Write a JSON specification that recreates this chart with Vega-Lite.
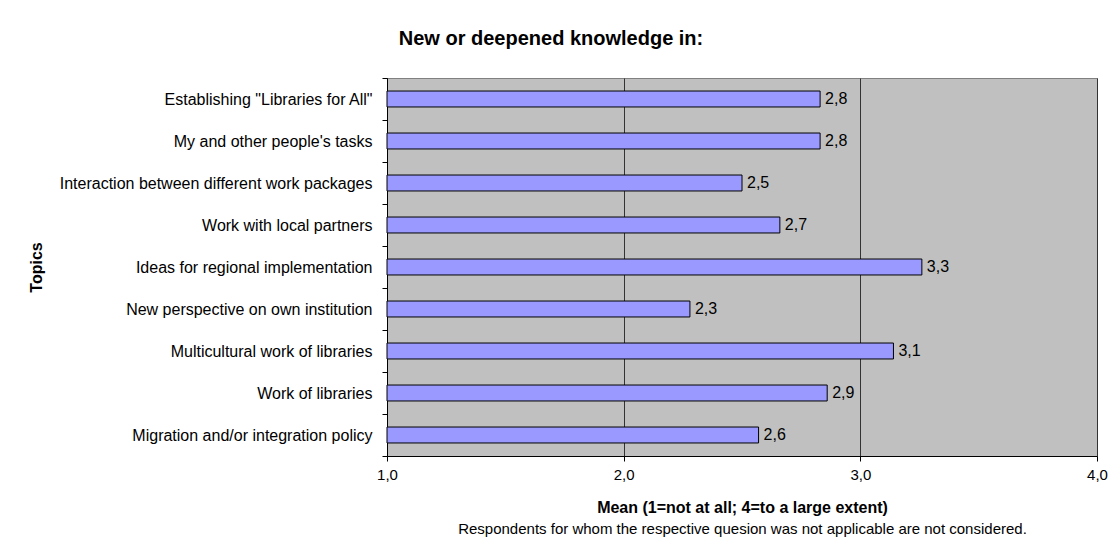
{
  "$schema": "https://vega.github.io/schema/vega-lite/v6.json",
  "autosize": {"type": "none"},
  "padding": {"left": 387, "top": 78, "right": 15, "bottom": 100},
  "width": 710,
  "height": 378,
  "background": "white",
  "config": {
    "locale": {"number": {"decimal": ",", "thousands": ".", "grouping": [3], "currency": ["", " €"]}},
    "font": "Liberation Sans",
    "view": {"fill": "#C0C0C0", "stroke": "#808080", "strokeWidth": 1}
  },
  "title": {
    "text": "New or deepened knowledge in:",
    "fontSize": 20,
    "fontWeight": "bold",
    "font": "Liberation Sans",
    "color": "#000000",
    "anchor": "middle",
    "frame": "group",
    "dx": -191,
    "offset": 5,
    "baseline": "alphabetic"
  },
  "data": {
    "values": [
      {"topic": "Establishing \"Libraries for All\"", "value": 2.83},
      {"topic": "My and other people's tasks", "value": 2.83},
      {"topic": "Interaction between different work packages", "value": 2.50},
      {"topic": "Work with local partners", "value": 2.66},
      {"topic": "Ideas for regional implementation", "value": 3.26},
      {"topic": "New perspective on own institution", "value": 2.28},
      {"topic": "Multicultural work of libraries", "value": 3.14},
      {"topic": "Work of libraries", "value": 2.86},
      {"topic": "Migration and/or integration policy", "value": 2.57}
    ]
  },
  "encoding": {
    "y": {
      "field": "topic",
      "type": "nominal",
      "sort": null,
      "scale": {"paddingInner": 0, "paddingOuter": 0},
      "axis": {
        "title": "Topics",
        "titleFontWeight": "bold",
        "titleFontSize": 16,
        "titleColor": "#000000",
        "titleX": -351,
        "titleBaseline": "middle",
        "labelFontSize": 16,
        "labelColor": "#000000",
        "labelPadding": 10,
        "labelLimit": 400,
        "tickSize": 5,
        "tickColor": "#000000",
        "domainColor": "#000000",
        "tickBand": "extent"
      }
    }
  },
  "layer": [
    {
      "mark": {"type": "bar", "fill": "#9999FF", "stroke": "#000000", "strokeWidth": 1, "height": {"band": 0.38}},
      "encoding": {
        "x": {
          "field": "value",
          "type": "quantitative",
          "scale": {"domain": [1, 4], "zero": false, "nice": false},
          "axis": {
            "orient": "bottom",
            "values": [1, 2, 3, 4],
            "format": ".1f",
            "title": "Mean (1=not at all; 4=to a large extent)",
            "titleFontWeight": "bold",
            "titleFontSize": 16,
            "titleColor": "#000000",
            "titlePadding": 17,
            "labelFontSize": 15,
            "labelColor": "#000000",
            "labelPadding": 6,
            "labelFlush": false,
            "labelOverlap": false,
            "tickSize": 5,
            "tickColor": "#000000",
            "domainColor": "#000000",
            "grid": true,
            "gridColor": "#333333",
            "gridOpacity": 1
          }
        },
        "x2": {"datum": 1}
      }
    },
    {
      "mark": {"type": "text", "align": "left", "baseline": "middle", "dx": 5, "fontSize": 16, "color": "#000000"},
      "encoding": {
        "x": {
          "field": "value",
          "type": "quantitative",
          "axis": {
            "orient": "bottom",
            "title": "Respondents for whom the respective quesion was not applicable are not considered.",
            "titleFontWeight": "normal",
            "titleFontSize": 15,
            "titleColor": "#000000",
            "titlePadding": 65,
            "labels": false,
            "ticks": false,
            "domain": false,
            "grid": false
          }
        },
        "text": {"field": "value", "type": "quantitative", "format": ".1f"}
      }
    }
  ],
  "resolve": {"axis": {"x": "independent"}}
}
